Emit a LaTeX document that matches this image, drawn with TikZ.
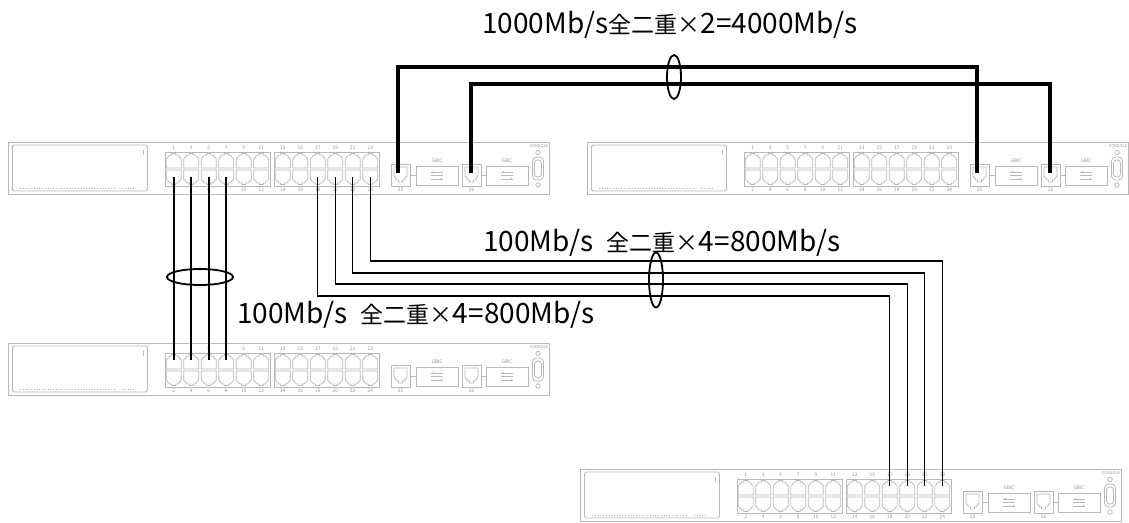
\documentclass[tikz,border=0pt]{standalone}
\usepackage{fontspec}
\setmainfont{Noto Sans CJK JP}
\usetikzlibrary{shapes.geometric}
\newcommand\cjkpart[1]{{\fontsize{23}{28}\selectfont #1}}
\tikzset{
  swline/.style={draw=gray!55, line width=0.75pt},
  portlbl/.style={font=\fontsize{4.8}{5}\selectfont, text=gray!85, inner sep=0pt},
  bigcable/.style={line width=4pt},
  midcable/.style={line width=2.2pt},
  thincable/.style={line width=1.2pt},
  bundle/.style={draw, ellipse, line width=1.8pt, inner sep=0pt},
  lbl/.style={font=\fontsize{28}{32}\selectfont, inner sep=0pt},
  swpic/.pic={
    \draw[swline] (0,0) rectangle (541,52);
    \draw[swline, rounded corners=1.5pt] (4.5,3) rectangle (139.5,49);
    \draw[swline] (135,8) -- (135,13);
    \draw[swline, dotted] (12,46.5) -- (108,46.5);
    \draw[swline, dotted] (114,46.5) -- (126,46.5);
    \foreach \bx/\first in {157/1,266/13}{
      \draw[swline] (\bx,10) rectangle (\bx+105,44);
      \foreach \k in {0,...,5}{
        \pgfmathsetmacro{\cx}{\bx+17.5*\k+8.75}
        \pgfmathtruncatemacro{\odd}{\first+2*\k}
        \pgfmathtruncatemacro{\even}{\first+2*\k+1}
        \draw[swline] (\cx-7.5,26) -- (\cx-7.5,17) -- (\cx-4,13) -- (\cx-2,13) -- (\cx-2,11.5) -- (\cx+2,11.5) -- (\cx+2,13) -- (\cx+4,13) -- (\cx+7.5,17) -- (\cx+7.5,26) -- cycle;
        \draw[swline] (\cx-7.5,28) -- (\cx-7.5,37) -- (\cx-4,41) -- (\cx-2,41) -- (\cx-2,42.5) -- (\cx+2,42.5) -- (\cx+2,41) -- (\cx+4,41) -- (\cx+7.5,37) -- (\cx+7.5,28) -- cycle;
        \node[portlbl] at (\cx,6) {\odd};
        \node[portlbl] at (\cx,47.8) {\even};
        \coordinate (-p\odd) at (\cx,17);
        \coordinate (-p\even) at (\cx,35);
      }
    }
    \foreach \px/\gx/\num/\off in {383/408/25/6.5,454/478/26/9}{
      \draw[swline] (\px,22) rectangle (\px+19,44);
      \draw[swline] (\px+3,25) -- (\px+16,25) -- (\px+16,34) -- (\px+13,38) -- (\px+11.5,38) -- (\px+11.5,40) -- (\px+7.5,40) -- (\px+7.5,38) -- (\px+6,38) -- (\px+3,34) -- cycle;
      \draw[swline] (\px+19,33) -- (\gx,33);
      \draw[swline] (\gx,24) rectangle (\gx+42,43);
      \node[portlbl] at (\gx+21,19) {GBIC};
      \draw[swline, line width=0.6pt] (\gx+15,30) -- (\gx+27,30) (\gx+15,33.5) -- (\gx+27,33.5) (\gx+15,37) -- (\gx+27,37);
      \draw[swline, line width=0.6pt] (\gx+17,29) -- (\gx+17,31) (\gx+25,35.5) -- (\gx+25,38);
      \node[portlbl] at (\px+9.5,48) {\num};
      \coordinate (-p\num) at (\px+\off,31);
    }
    \node[portlbl, font=\fontsize{4}{4.5}\selectfont] at (531,4.5) {CONSOLE};
    \draw[swline] (530,10.5) circle (2.2pt);
    \draw[swline, rounded corners=4pt] (524.5,15) rectangle (535.5,38);
    \draw[swline, rounded corners=3pt] (526.5,18) rectangle (533.5,35);
    \draw[swline] (530,43) circle (2.2pt);
  }
}
\begin{document}
\begin{tikzpicture}[x=1pt, y=-1pt]
  \useasboundingbox (0,0) rectangle (1129,522);
  \fill[white] (0,0) rectangle (1129,522);

  \pic (s1) at (8,142) {swpic};
  \pic (s2) at (587,142) {swpic};
  \pic (s3) at (8,343) {swpic};
  \pic (s4) at (580,469) {swpic};

  % routing levels
  \coordinate (hA) at (0,67);
  \coordinate (hB) at (0,84);
  \coordinate (h18) at (0,296);
  \coordinate (h20) at (0,284);
  \coordinate (h22) at (0,273);
  \coordinate (h24) at (0,261);

  % 1000Mb/s uplinks
  \draw[bigcable] (s1-p25) -- (s1-p25 |- hA) -- (s2-p25 |- hA) -- (s2-p25);
  \draw[bigcable] (s1-p26) -- (s1-p26 |- hB) -- (s2-p26 |- hB) -- (s2-p26);

  % switch 1 -> switch 3
  \draw[midcable] (s1-p2) -- (s3-p1);
  \draw[midcable] (s1-p4) -- (s3-p3);
  \draw[midcable] (s1-p6) -- (s3-p5);
  \draw[midcable] (s1-p8) -- (s3-p7);

  % switch 1 -> switch 4
  \draw[thincable] (s1-p18) -- (s1-p18 |- h18) -- (s4-p17 |- h18) -- (s4-p17);
  \draw[thincable] (s1-p20) -- (s1-p20 |- h20) -- (s4-p19 |- h20) -- (s4-p19);
  \draw[thincable] (s1-p22) -- (s1-p22 |- h22) -- (s4-p21 |- h22) -- (s4-p21);
  \draw[thincable] (s1-p24) -- (s1-p24 |- h24) -- (s4-p23 |- h24) -- (s4-p23);

  % bundle marks
  \node[bundle, minimum width=14pt, minimum height=44pt] (eTop) at (674,77) {};
  \node[bundle, minimum width=14pt, minimum height=55pt] (eMid) at (656,280) {};
  \node[bundle, minimum width=66pt, minimum height=16pt] (eLeft) at (200,277) {};

  % labels
  \node[lbl, anchor=base west] (tTop) at (482,33) {1000Mb/s\cjkpart{全二重×}2=4000Mb/s};
  \node[lbl, anchor=base west] (tMid) at (483,251) {100Mb/s\hspace{13pt}\cjkpart{全二重×}4=800Mb/s};
  \node[lbl, anchor=base west] (tLow) at (237,323) {100Mb/s\hspace{13pt}\cjkpart{全二重×}4=800Mb/s};
\end{tikzpicture}
\end{document}
